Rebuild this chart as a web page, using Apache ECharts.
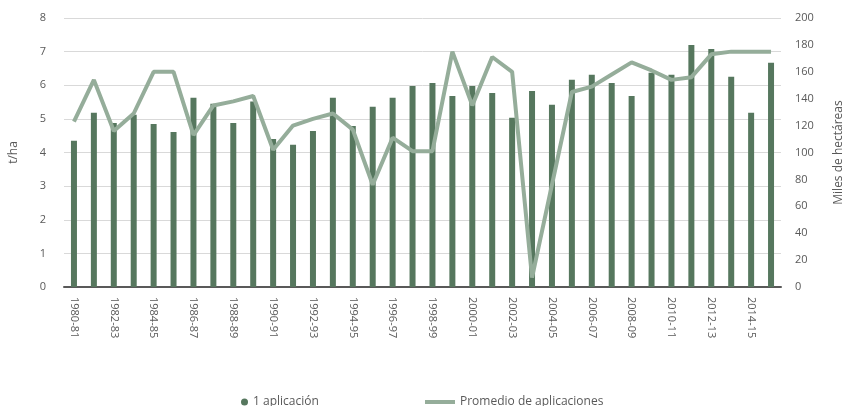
<!DOCTYPE html>
<html>
<head>
<meta charset="utf-8">
<script src="https://cdn.jsdelivr.net/npm/echarts@6/dist/echarts.min.js"></script>
<style>
    html, body { margin: 0; padding: 0; background: #fff; }
    #main { width: 843px; height: 406px; }
</style>
</head>
<body>
<div id="main"></div>
<script>
// campañas
var campanas = ['1980-81', '1981-82', '1982-83', '1983-84', '1984-85', '1985-86', '1986-87', '1987-88',
    '1988-89', '1989-90', '1990-91', '1991-92', '1992-93', '1993-94', '1994-95', '1995-96',
    '1996-97', '1997-98', '1998-99', '1999-00', '2000-01', '2001-02', '2002-03', '2003-04',
    '2004-05', '2005-06', '2006-07', '2007-08', '2008-09', '2009-10', '2010-11', '2011-12',
    '2012-13', '2013-14', '2014-15', '2015-16'];

// rendimiento t/ha (eje izquierdo)
var unaAplicacion = [4.35, 5.18, 4.88, 5.12, 4.85, 4.61, 5.63, 5.45, 4.88, 5.52, 4.40, 4.23,
    4.64, 5.63, 4.79, 5.36, 5.63, 5.98, 6.07, 5.68, 5.98, 5.77, 5.03, 5.83,
    5.42, 6.16, 6.31, 6.07, 5.68, 6.37, 6.31, 7.20, 7.08, 6.25, 5.18, 6.67];

// miles de hectáreas (eje derecho)
var promedio = [123, 154, 116, 129, 160, 160, 113, 135, 138, 142, 102, 120,
    125, 129, 117, 76, 111, 101, 101, 175, 135, 171, 160, 7,
    76, 145, 149, 158, 167, 161, 154, 156, 173, 175, 175, 175];

var textoGris = '#595959';

var myChart = echarts.init(document.getElementById('main'));

var option = {
    textStyle: { fontFamily: 'Open Sans' },
    animation: false,
    grid: {
        left: 64,
        right: 62,
        top: 18,
        bottom: 119,
        outerBoundsMode: 'none'
    },
    legend: [
        {
            data: [{ name: '1 aplicación', icon: 'circle' }],
            left: 236,
            top: 391,
            itemWidth: 7,
            itemHeight: 7,
            itemGap: 4,
            textStyle: { color: textoGris, fontSize: 12 }
        },
        {
            data: [{ name: 'Promedio de aplicaciones', icon: 'rect' }],
            left: 420,
            top: 391,
            itemWidth: 30,
            itemHeight: 4,
            textStyle: { color: textoGris, fontSize: 12 }
        }
    ],
    xAxis: {
        type: 'category',
        data: campanas,
        axisTick: { show: false },
        axisLine: { lineStyle: { color: '#595959', width: 2 } },
        axisLabel: {
            interval: 1,
            rotate: -90,
            color: textoGris,
            fontSize: 11,
            margin: 10
        }
    },
    yAxis: [
        {
            type: 'value',
            min: 0,
            max: 8,
            interval: 1,
            name: 't/ha',
            nameLocation: 'middle',
            nameRotate: 90,
            nameGap: 44,
            nameTextStyle: { color: textoGris, fontSize: 12 },
            axisLine: { show: false },
            axisTick: { show: false },
            axisLabel: { color: textoGris, fontSize: 11, margin: 18 },
            splitLine: { lineStyle: { color: '#d9d9d9', width: 1 } }
        },
        {
            type: 'value',
            min: 0,
            max: 200,
            interval: 20,
            name: 'Miles de hectáreas',
            nameLocation: 'middle',
            nameRotate: 90,
            nameGap: 52,
            nameTextStyle: { color: textoGris, fontSize: 12 },
            axisLine: { show: false },
            axisTick: { show: false },
            axisLabel: { color: textoGris, fontSize: 11, margin: 14 },
            splitLine: { show: false }
        }
    ],
    series: [
        {
            name: '1 aplicación',
            type: 'bar',
            yAxisIndex: 0,
            barWidth: 6,
            itemStyle: { color: '#56775e' },
            data: unaAplicacion
        },
        {
            name: 'Promedio de aplicaciones',
            type: 'line',
            yAxisIndex: 1,
            symbol: 'none',
            lineStyle: { color: '#95ad9a', width: 4 },
            itemStyle: { color: '#95ad9a' },
            data: promedio
        }
    ]
};

myChart.setOption(option);
window.onresize = myChart.resize;
</script>
</body>
</html>
